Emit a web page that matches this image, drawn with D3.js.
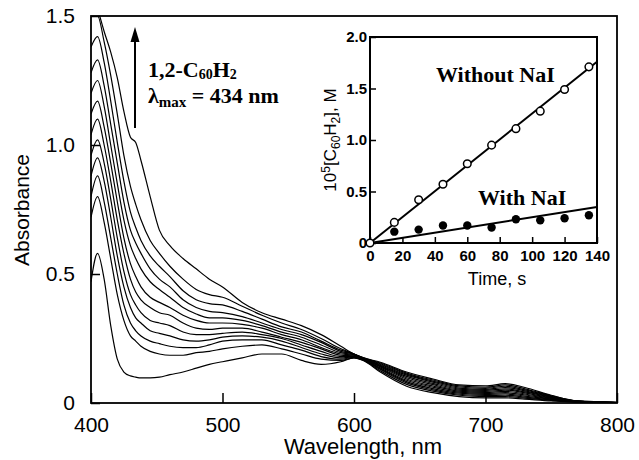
<!DOCTYPE html>
<html>
<head>
<meta charset="utf-8">
<script src="https://cdn.jsdelivr.net/npm/d3@7"></script>
<style>
  body { margin: 0; background: #fff; }
  svg { display: block; }
</style>
</head>
<body>
<svg id="chart" width="639" height="460"></svg>
<script>
// wavelengths (nm) at which the spectra were read
var wavelengths = [400,405,410,415,420,425,430,434,438,445,452,460,470,480,490,500,515,530,545,560,575,590,600,607,620,640,660,680,700,715,730,750,770,800];

// absorbance of each scan, bottom (first) to top (last)
var scan0  = [0.47,0.58,0.48,0.30,0.17,0.12,0.105,0.10,0.097,0.097,0.10,0.11,0.12,0.135,0.15,0.16,0.175,0.19,0.19,0.165,0.15,0.16,0.175,0.165,0.12,0.065,0.04,0.025,0.02,0.02,0.015,0.008,0.003,0];
var scan1  = [0.72,0.80,0.70,0.56,0.42,0.32,0.26,0.24,0.22,0.20,0.19,0.185,0.185,0.195,0.20,0.21,0.22,0.225,0.21,0.19,0.17,0.165,0.175,0.166,0.125,0.072,0.046,0.03,0.025,0.025,0.019,0.01,0.003,0];
var scan2  = [0.80,0.88,0.78,0.64,0.50,0.38,0.31,0.28,0.26,0.24,0.23,0.22,0.215,0.215,0.225,0.24,0.245,0.245,0.225,0.205,0.18,0.17,0.177,0.167,0.13,0.078,0.051,0.034,0.029,0.03,0.023,0.012,0.004,0];
var scan3  = [0.88,0.95,0.86,0.72,0.57,0.45,0.37,0.33,0.31,0.28,0.27,0.26,0.245,0.24,0.245,0.255,0.26,0.255,0.24,0.215,0.19,0.175,0.179,0.168,0.133,0.083,0.056,0.038,0.033,0.035,0.027,0.014,0.004,0];
var scan4  = [0.96,1.02,0.93,0.79,0.64,0.51,0.42,0.38,0.35,0.32,0.31,0.30,0.275,0.265,0.265,0.27,0.275,0.265,0.25,0.225,0.20,0.18,0.181,0.169,0.136,0.088,0.061,0.042,0.037,0.04,0.031,0.016,0.005,0];
var scan5  = [1.04,1.10,1.00,0.86,0.71,0.58,0.48,0.43,0.40,0.37,0.35,0.34,0.31,0.29,0.285,0.29,0.29,0.275,0.255,0.235,0.21,0.185,0.183,0.17,0.14,0.093,0.066,0.046,0.041,0.045,0.035,0.018,0.005,0];
var scan6  = [1.12,1.17,1.07,0.93,0.78,0.64,0.54,0.49,0.45,0.41,0.39,0.37,0.34,0.32,0.31,0.31,0.305,0.29,0.265,0.245,0.215,0.19,0.185,0.171,0.143,0.098,0.071,0.05,0.045,0.05,0.039,0.02,0.006,0];
var scan7  = [1.20,1.25,1.15,1.00,0.85,0.71,0.61,0.56,0.52,0.47,0.44,0.41,0.37,0.345,0.33,0.33,0.32,0.30,0.275,0.255,0.225,0.195,0.187,0.172,0.146,0.103,0.076,0.054,0.049,0.055,0.043,0.022,0.006,0.002];
var scan8  = [1.28,1.33,1.23,1.08,0.93,0.78,0.67,0.62,0.58,0.52,0.48,0.45,0.40,0.37,0.355,0.35,0.335,0.31,0.285,0.265,0.235,0.20,0.189,0.173,0.149,0.108,0.081,0.058,0.053,0.06,0.047,0.024,0.007,0.002];
var scan9  = [1.38,1.42,1.32,1.17,1.01,0.86,0.74,0.68,0.63,0.57,0.53,0.49,0.435,0.40,0.385,0.38,0.355,0.325,0.295,0.275,0.24,0.205,0.19,0.174,0.152,0.112,0.085,0.062,0.057,0.065,0.051,0.026,0.007,0.002];
var scan10 = [1.50,1.50,1.40,1.27,1.12,0.96,0.84,0.77,0.71,0.63,0.58,0.53,0.48,0.44,0.42,0.41,0.375,0.34,0.31,0.285,0.25,0.21,0.19,0.175,0.155,0.116,0.089,0.066,0.061,0.07,0.055,0.028,0.008,0.003];
var scan11 = [1.62,1.53,1.44,1.36,1.26,1.13,1.03,1.01,0.94,0.80,0.67,0.61,0.56,0.52,0.48,0.45,0.39,0.35,0.325,0.30,0.265,0.22,0.19,0.176,0.158,0.12,0.093,0.07,0.066,0.075,0.06,0.03,0.008,0.003];
var scans = [scan0,scan1,scan2,scan3,scan4,scan5,scan6,scan7,scan8,scan9,scan10,scan11];

var xTicks = [400,500,600,700,800];
var yTicks = [0,0.5,1.0,1.5];

// inset: product concentration vs time
var times      = [0,15,30,45,60,75,90,105,120,135];
var withoutNaI = [0,0.20,0.42,0.57,0.77,0.95,1.11,1.28,1.49,1.71];
var timesNaI   = [15,30,45,60,75,90,105,120,135];
var withNaI    = [0.11,0.13,0.17,0.17,0.15,0.23,0.22,0.24,0.27];
var fitWithout = [[0,0],[140,1.76]];
var fitWith    = [[0,0],[140,0.35]];
var tTicks = [0,20,40,60,80,100,120,140];
var cTicks = [0,0.5,1.0,1.5,2.0];

var svg = d3.select("#chart");
var sans = "Liberation Sans, Arial, sans-serif";
var serif = "Liberation Serif, Times New Roman, serif";
var fmt = function(d){ return d === 0 ? "0" : d3.format(".1f")(d); };

var x = d3.scaleLinear().domain([400,800]).range([91,617]);
var y = d3.scaleLinear().domain([0,1.5]).range([403,16]);

svg.append("clipPath").attr("id","plotclip")
  .append("rect").attr("x",91).attr("y",16).attr("width",526).attr("height",387);

// spectra
var line = d3.line()
  .x(function(d,i){ return x(wavelengths[i]); })
  .y(function(d){ return y(d); })
  .curve(d3.curveMonotoneX);

svg.append("g").attr("clip-path","url(#plotclip)")
  .selectAll("path")
  .data(scans)
  .enter()
  .append("path")
  .attr("d", line)
  .attr("fill","none")
  .attr("stroke","#000")
  .attr("stroke-width",1.2);

// main axes (ticks point inward)
var xAxis = svg.append("g").attr("transform","translate(0,403)")
  .call(d3.axisBottom(x).tickValues(xTicks).tickSizeInner(-10).tickSizeOuter(0).tickPadding(14));
var yAxis = svg.append("g").attr("transform","translate(91,0)")
  .call(d3.axisLeft(y).tickValues(yTicks).tickFormat(fmt).tickSizeInner(-9).tickSizeOuter(0).tickPadding(16));
[xAxis,yAxis].forEach(function(a){
  a.select(".domain").remove();
  a.selectAll("line").attr("stroke","#000").attr("stroke-width",1.5);
  a.selectAll("text").attr("font-family",sans).attr("font-size",21).attr("fill","#000");
});

svg.append("rect").attr("x",91).attr("y",16).attr("width",526).attr("height",387)
  .attr("fill","none").attr("stroke","#000").attr("stroke-width",1.8);

svg.append("text").attr("x",363).attr("y",454).attr("text-anchor","middle")
  .attr("font-family",sans).attr("font-size",22)
  .text("Wavelength, nm");
svg.append("text").attr("transform","translate(29,210) rotate(-90)").attr("text-anchor","middle")
  .attr("font-family",sans).attr("font-size",21)
  .text("Absorbance");

// arrow + annotation
svg.append("line").attr("x1",135).attr("x2",135).attr("y1",128).attr("y2",40)
  .attr("stroke","#000").attr("stroke-width",2);
svg.append("path").attr("d","M135,27 L130.5,42 L139.5,42 Z").attr("fill","#000");

var t1 = svg.append("text").attr("x",148).attr("y",77).attr("font-family",serif)
  .attr("font-weight","bold").attr("font-size",22);
t1.append("tspan").text("1,2-C");
t1.append("tspan").attr("font-size",14).attr("dy",2).text("60");
t1.append("tspan").attr("dy",-2).text("H");
t1.append("tspan").attr("font-size",14).attr("dy",2).text("2");

var t2 = svg.append("text").attr("x",148).attr("y",103).attr("font-family",serif)
  .attr("font-weight","bold").attr("font-size",22);
t2.append("tspan").text("\u03bb");
t2.append("tspan").attr("font-size",15).attr("dy",4).text("max");
t2.append("tspan").attr("dy",-4).text(" =  434 nm");

// inset
var tx = d3.scaleLinear().domain([0,140]).range([370,597]);
var ty = d3.scaleLinear().domain([0,2]).range([243,37]);

svg.append("rect").attr("x",370).attr("y",37).attr("width",227).attr("height",206)
  .attr("fill","#fff").attr("stroke","#000").attr("stroke-width",2);

var txAxis = svg.append("g").attr("transform","translate(0,243)")
  .call(d3.axisBottom(tx).tickValues(tTicks).tickSizeInner(-6).tickSizeOuter(0).tickPadding(7));
var tyAxis = svg.append("g").attr("transform","translate(370,0)")
  .call(d3.axisLeft(ty).tickValues(cTicks).tickFormat(fmt).tickSizeInner(-6).tickSizeOuter(0).tickPadding(3));
[txAxis,tyAxis].forEach(function(a){
  a.select(".domain").remove();
  a.selectAll("line").attr("stroke","#000").attr("stroke-width",1.5);
  a.selectAll("text").attr("font-family",sans).attr("font-weight","bold")
    .attr("font-size",15).attr("fill","#000");
});

var fit = d3.line().x(function(d){ return tx(d[0]); }).y(function(d){ return ty(d[1]); });
[fitWithout, fitWith].forEach(function(f){
  svg.append("path").attr("d", fit(f)).attr("fill","none").attr("stroke","#000").attr("stroke-width",2);
});

svg.append("g").selectAll("circle").data(times).enter().append("circle")
  .attr("cx", function(d){ return tx(d); })
  .attr("cy", function(d,i){ return ty(withoutNaI[i]); })
  .attr("r",3.8).attr("fill","#fff").attr("stroke","#000").attr("stroke-width",1.5);

svg.append("g").selectAll("circle").data(timesNaI).enter().append("circle")
  .attr("cx", function(d){ return tx(d); })
  .attr("cy", function(d,i){ return ty(withNaI[i]); })
  .attr("r",4.2).attr("fill","#000");

svg.append("text").attr("x",436).attr("y",82).attr("font-family",serif)
  .attr("font-weight","bold").attr("font-size",22).text("Without NaI");
svg.append("text").attr("x",478).attr("y",205).attr("font-family",serif)
  .attr("font-weight","bold").attr("font-size",22).text("With NaI");

svg.append("text").attr("x",497).attr("y",285).attr("text-anchor","middle")
  .attr("font-family",sans).attr("font-size",18)
  .text("Time, s");

var yl = svg.append("text").attr("transform","translate(336,140) rotate(-90)").attr("text-anchor","middle")
  .attr("font-family",sans).attr("font-size",17);
yl.append("tspan").text("10");
yl.append("tspan").attr("font-size",12).attr("dy",-6).text("5");
yl.append("tspan").attr("dy",6).text("[C");
yl.append("tspan").attr("font-size",12).attr("dy",4).text("60");
yl.append("tspan").attr("dy",-4).text("H");
yl.append("tspan").attr("font-size",12).attr("dy",4).text("2");
yl.append("tspan").attr("dy",-4).text("], M");
</script>
</body>
</html>
